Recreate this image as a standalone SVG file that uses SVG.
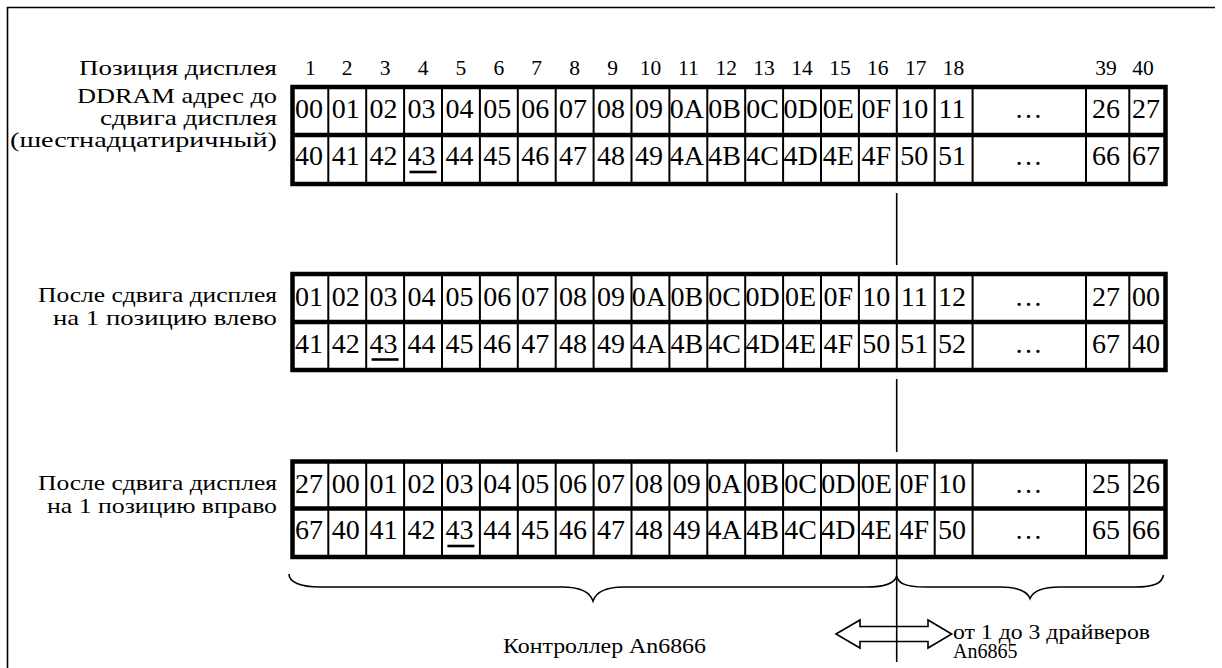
<svg xmlns="http://www.w3.org/2000/svg" width="1222" height="668" viewBox="0 0 1222 668" font-family="'Liberation Serif', 'DejaVu Serif', serif">
<style>
text{font-family:"Liberation Serif","DejaVu Serif","Times New Roman",serif;fill:#000}
.c{font-size:28px;text-anchor:middle}
.h{font-size:21.5px;text-anchor:middle}
.l{font-size:22px;text-anchor:start}
.b{font-size:20px}
.thick{fill:none;stroke:#000;stroke-width:4.5}
.thin{stroke:#000;stroke-width:2}
.ln{stroke:#000;stroke-width:1.6;fill:none}
.ul{stroke:#000;stroke-width:2.6}
</style>
<rect width="1222" height="668" fill="#fff"/>
<path class="ln" d="M7.5,668 V7.5 H1215"/>

<g id="header">
<text class="l" x="79" y="75" textLength="198" lengthAdjust="spacingAndGlyphs">Позиция дисплея</text>
<text class="h" y="75" x="310.4">1</text><text class="h" y="75" x="347.2">2</text><text class="h" y="75" x="385.1">3</text><text class="h" y="75" x="423">4</text><text class="h" y="75" x="460.9">5</text><text class="h" y="75" x="498.8">6</text><text class="h" y="75" x="536.7">7</text><text class="h" y="75" x="574.6">8</text><text class="h" y="75" x="612.5">9</text><text class="h" y="75" x="650.4">10</text><text class="h" y="75" x="688.3">11</text><text class="h" y="75" x="726.2">12</text><text class="h" y="75" x="764.1">13</text><text class="h" y="75" x="802">14</text><text class="h" y="75" x="839.9">15</text><text class="h" y="75" x="877.8">16</text><text class="h" y="75" x="915.7">17</text><text class="h" y="75" x="953.6">18</text><text class="h" y="75" x="1106">39</text><text class="h" y="75" x="1143">40</text>
</g>

<g id="table1">
<text class="l" x="77" y="103" textLength="200" lengthAdjust="spacingAndGlyphs">DDRAM адрес до</text>
<text class="l" x="100" y="125" textLength="177" lengthAdjust="spacingAndGlyphs">сдвига дисплея</text>
<text class="l" x="10" y="147" textLength="267" lengthAdjust="spacingAndGlyphs">(шестнадцатиричный)</text>
<rect class="thick" x="292.5" y="87" width="873" height="97"/>
<line class="thick" x1="292.5" y1="135" x2="1165.5" y2="135"/>
<path class="thin" d="M328.3,89V182M366.2,89V182M404.1,89V182M442,89V182M479.9,89V182M517.8,89V182M555.7,89V182M593.6,89V182M631.5,89V182M669.4,89V182M707.3,89V182M745.2,89V182M783.1,89V182M821,89V182M858.9,89V182M896.8,89V182M934.7,89V182M972.6,89V182M1086,89V182M1129.3,89V182"/>
<g class="c">
<text y="118" x="308.9">00</text><text y="118" x="345.7">01</text><text y="118" x="383.6">02</text><text y="118" x="421.5">03</text><text y="118" x="459.4">04</text><text y="118" x="497.3">05</text><text y="118" x="535.2">06</text><text y="118" x="573.1">07</text><text y="118" x="611">08</text><text y="118" x="648.9">09</text><text y="118" x="686.8">0A</text><text y="118" x="724.7">0B</text><text y="118" x="762.6">0C</text><text y="118" x="800.5">0D</text><text y="118" x="838.4">0E</text><text y="118" x="876.3">0F</text><text y="118" x="914.2">10</text><text y="118" x="952.1">11</text><text y="118" x="1028.5">…</text><text y="118" x="1106">26</text><text y="118" x="1146">27</text>
<text y="165" x="308.9">40</text><text y="165" x="345.7">41</text><text y="165" x="383.6">42</text><text y="165" x="421.5">43</text><text y="165" x="459.4">44</text><text y="165" x="497.3">45</text><text y="165" x="535.2">46</text><text y="165" x="573.1">47</text><text y="165" x="611">48</text><text y="165" x="648.9">49</text><text y="165" x="686.8">4A</text><text y="165" x="724.7">4B</text><text y="165" x="762.6">4C</text><text y="165" x="800.5">4D</text><text y="165" x="838.4">4E</text><text y="165" x="876.3">4F</text><text y="165" x="914.2">50</text><text y="165" x="952.1">51</text><text y="165" x="1028.5">…</text><text y="165" x="1106">66</text><text y="165" x="1146">67</text>
</g>
<line class="ul" x1="409.5" y1="172" x2="436.5" y2="172"/>
</g>

<g id="table2">
<text class="l" x="38" y="302" textLength="239" lengthAdjust="spacingAndGlyphs">После сдвига дисплея</text>
<text class="l" x="53" y="325" textLength="224" lengthAdjust="spacingAndGlyphs">на 1 позицию влево</text>
<rect class="thick" x="292.5" y="274" width="873" height="96"/>
<line class="thick" x1="292.5" y1="322" x2="1165.5" y2="322"/>
<path class="thin" d="M328.3,276V368M366.2,276V368M404.1,276V368M442,276V368M479.9,276V368M517.8,276V368M555.7,276V368M593.6,276V368M631.5,276V368M669.4,276V368M707.3,276V368M745.2,276V368M783.1,276V368M821,276V368M858.9,276V368M896.8,276V368M934.7,276V368M972.6,276V368M1086,276V368M1129.3,276V368"/>
<g class="c">
<text y="305.5" x="308.9">01</text><text y="305.5" x="345.7">02</text><text y="305.5" x="383.6">03</text><text y="305.5" x="421.5">04</text><text y="305.5" x="459.4">05</text><text y="305.5" x="497.3">06</text><text y="305.5" x="535.2">07</text><text y="305.5" x="573.1">08</text><text y="305.5" x="611">09</text><text y="305.5" x="648.9">0A</text><text y="305.5" x="686.8">0B</text><text y="305.5" x="724.7">0C</text><text y="305.5" x="762.6">0D</text><text y="305.5" x="800.5">0E</text><text y="305.5" x="838.4">0F</text><text y="305.5" x="876.3">10</text><text y="305.5" x="914.2">11</text><text y="305.5" x="952.1">12</text><text y="305.5" x="1028.5">…</text><text y="305.5" x="1106">27</text><text y="305.5" x="1146">00</text>
<text y="352.5" x="308.9">41</text><text y="352.5" x="345.7">42</text><text y="352.5" x="383.6">43</text><text y="352.5" x="421.5">44</text><text y="352.5" x="459.4">45</text><text y="352.5" x="497.3">46</text><text y="352.5" x="535.2">47</text><text y="352.5" x="573.1">48</text><text y="352.5" x="611">49</text><text y="352.5" x="648.9">4A</text><text y="352.5" x="686.8">4B</text><text y="352.5" x="724.7">4C</text><text y="352.5" x="762.6">4D</text><text y="352.5" x="800.5">4E</text><text y="352.5" x="838.4">4F</text><text y="352.5" x="876.3">50</text><text y="352.5" x="914.2">51</text><text y="352.5" x="952.1">52</text><text y="352.5" x="1028.5">…</text><text y="352.5" x="1106">67</text><text y="352.5" x="1146">40</text>
</g>
<line class="ul" x1="371.6" y1="359.5" x2="398.6" y2="359.5"/>
</g>

<g id="table3">
<text class="l" x="38" y="489.5" textLength="239" lengthAdjust="spacingAndGlyphs">После сдвига дисплея</text>
<text class="l" x="47" y="512.5" textLength="230" lengthAdjust="spacingAndGlyphs">на 1 позицию вправо</text>
<rect class="thick" x="292.5" y="461.5" width="873" height="95.5"/>
<line class="thick" x1="292.5" y1="508.5" x2="1165.5" y2="508.5"/>
<path class="thin" d="M328.3,463V555M366.2,463V555M404.1,463V555M442,463V555M479.9,463V555M517.8,463V555M555.7,463V555M593.6,463V555M631.5,463V555M669.4,463V555M707.3,463V555M745.2,463V555M783.1,463V555M821,463V555M858.9,463V555M896.8,463V555M934.7,463V555M972.6,463V555M1086,463V555M1129.3,463V555"/>
<g class="c">
<text y="493" x="308.9">27</text><text y="493" x="345.7">00</text><text y="493" x="383.6">01</text><text y="493" x="421.5">02</text><text y="493" x="459.4">03</text><text y="493" x="497.3">04</text><text y="493" x="535.2">05</text><text y="493" x="573.1">06</text><text y="493" x="611">07</text><text y="493" x="648.9">08</text><text y="493" x="686.8">09</text><text y="493" x="724.7">0A</text><text y="493" x="762.6">0B</text><text y="493" x="800.5">0C</text><text y="493" x="838.4">0D</text><text y="493" x="876.3">0E</text><text y="493" x="914.2">0F</text><text y="493" x="952.1">10</text><text y="493" x="1028.5">…</text><text y="493" x="1106">25</text><text y="493" x="1146">26</text>
<text y="539" x="308.9">67</text><text y="539" x="345.7">40</text><text y="539" x="383.6">41</text><text y="539" x="421.5">42</text><text y="539" x="459.4">43</text><text y="539" x="497.3">44</text><text y="539" x="535.2">45</text><text y="539" x="573.1">46</text><text y="539" x="611">47</text><text y="539" x="648.9">48</text><text y="539" x="686.8">49</text><text y="539" x="724.7">4A</text><text y="539" x="762.6">4B</text><text y="539" x="800.5">4C</text><text y="539" x="838.4">4D</text><text y="539" x="876.3">4E</text><text y="539" x="914.2">4F</text><text y="539" x="952.1">50</text><text y="539" x="1028.5">…</text><text y="539" x="1106">65</text><text y="539" x="1146">66</text>
</g>
<line class="ul" x1="447.4" y1="546" x2="474.4" y2="546"/>
</g>

<g id="connectors">
<line class="ln" x1="896.7" y1="193" x2="896.7" y2="265"/>
<line class="ln" x1="896.7" y1="379" x2="896.7" y2="452"/>
<line class="ln" x1="896.7" y1="557" x2="896.7" y2="662"/>
<path class="ln" d="M289,574 C289,582 300,587 320,587 L562,587 C580,587 590,592 593,601 C596,592 606,587 624,587 L866,587 C886,587 895,583 896.7,576"/>
<path class="ln" d="M896.7,576 C898,583 905,587 925,587 L1000,587 C1018,587 1027,591 1030,598.5 C1033,591 1042,587 1060,587 L1135,587 C1155,587 1162,583 1163.5,575"/>
<polygon class="ln" points="836,634 860,620 860,626.5 928,626.5 928,620 951.7,634 928,648 928,641.5 860,641.5 860,648"/>
</g>

<g id="controller">
<text class="b" x="503" y="653" font-size="21" textLength="203" lengthAdjust="spacingAndGlyphs">Контроллер An6866</text>
</g>
<g id="drivers">
<text class="b" x="953" y="638.5" textLength="197" lengthAdjust="spacingAndGlyphs">от 1 до 3 драйверов</text>
<text class="b" x="953" y="657.5">An6865</text>
</g>
</svg>
